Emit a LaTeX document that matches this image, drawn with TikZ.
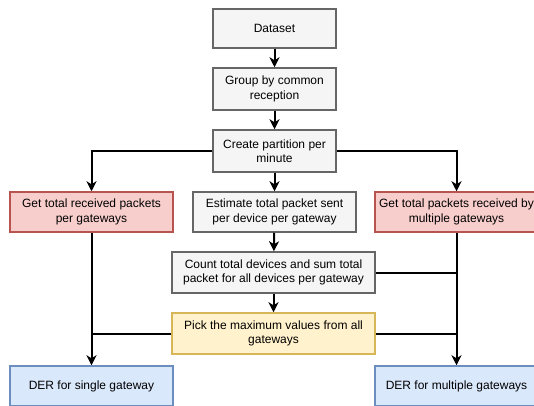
\documentclass[tikz,border=0pt]{standalone}
\usepackage{fontspec}
\setmainfont{Liberation Sans}
\usetikzlibrary{arrows.meta}
\definecolor{grayfill}{HTML}{F5F5F5}
\definecolor{graydraw}{HTML}{666666}
\definecolor{redfill}{HTML}{F8CECC}
\definecolor{reddraw}{HTML}{B85450}
\definecolor{yelfill}{HTML}{FFF2CC}
\definecolor{yeldraw}{HTML}{D6B656}
\definecolor{bluefill}{HTML}{DAE8FC}
\definecolor{bluedraw}{HTML}{6C8EBF}
\tikzset{
  box/.style={rectangle, line width=1.5pt, align=center, inner sep=0pt,
    font=\fontsize{12}{14.5}\selectfont, text=black},
  graybox/.style={box, fill=grayfill, draw=graydraw},
  redbox/.style={box, fill=redfill, draw=reddraw},
  yelbox/.style={box, fill=yelfill, draw=yeldraw},
  bluebox/.style={box, fill=bluefill, draw=bluedraw},
  conn/.style={line width=2pt, black},
  arr/.style={conn, -{Stealth[length=10pt,width=10pt,inset=3pt]}},
}
\begin{document}
\begin{tikzpicture}[x=1pt,y=-1pt]
\useasboundingbox (0,0) rectangle (534,405);
\clip (0,0) rectangle (534,405);
\fill[white] (0,0) rectangle (534,405);
\node[graybox, minimum width=123pt, minimum height=39pt] (ds) at (274.5,28.5) {Dataset};
\node[graybox, minimum width=123pt, minimum height=42pt] (grp) at (274.5,89) {Group by common\\reception};
\node[graybox, minimum width=123pt, minimum height=42pt] (cp) at (274.5,151) {Create partition per\\minute};
\node[graybox, minimum width=163pt, minimum height=40pt] (est) at (274.5,212) {Estimate total packet sent\\per device per gateway};
\node[graybox, minimum width=203pt, minimum height=41pt] (cnt) at (273.5,272.5) {Count total devices and sum total\\packet for all devices per gateway};
\node[yelbox, minimum width=203pt, minimum height=41pt] (pick) at (273.5,333.5) {Pick the maximum values from all\\gateways};
\node[redbox, minimum width=163pt, minimum height=40pt] (redL) at (91.5,212) {Get total received packets\\per gateways};
\node[redbox, minimum width=163pt, minimum height=40pt] (redR) at (456.5,212) {Get total packets received by\\multiple gateways};
\node[bluebox, minimum width=163pt, minimum height=40pt] (derL) at (91.5,386) {DER for single gateway};
\node[bluebox, minimum width=163pt, minimum height=40pt] (derR) at (456.5,386) {DER for multiple gateways};
\coordinate (jL) at (pick.west -| redL.south);
\coordinate (jR1) at (cnt.east -| redR.south);
\coordinate (jR2) at (pick.east -| redR.south);
\draw[arr] (ds) -- (grp);
\draw[arr] (grp) -- (cp);
\draw[arr] (cp) -- (est);
\draw[arr] (est) -- (cnt);
\draw[arr] (cnt) -- (pick);
\draw[arr] (cp.west) -| (redL.north);
\draw[arr] (cp.east) -| (redR.north);
\draw[arr] (redL) -- (derL);
\draw[arr] (redR) -- (derR);
\draw[conn] (pick.west) -- (jL);
\draw[conn] (cnt.east) -- (jR1);
\draw[conn] (pick.east) -- (jR2);
\end{tikzpicture}
\end{document}
